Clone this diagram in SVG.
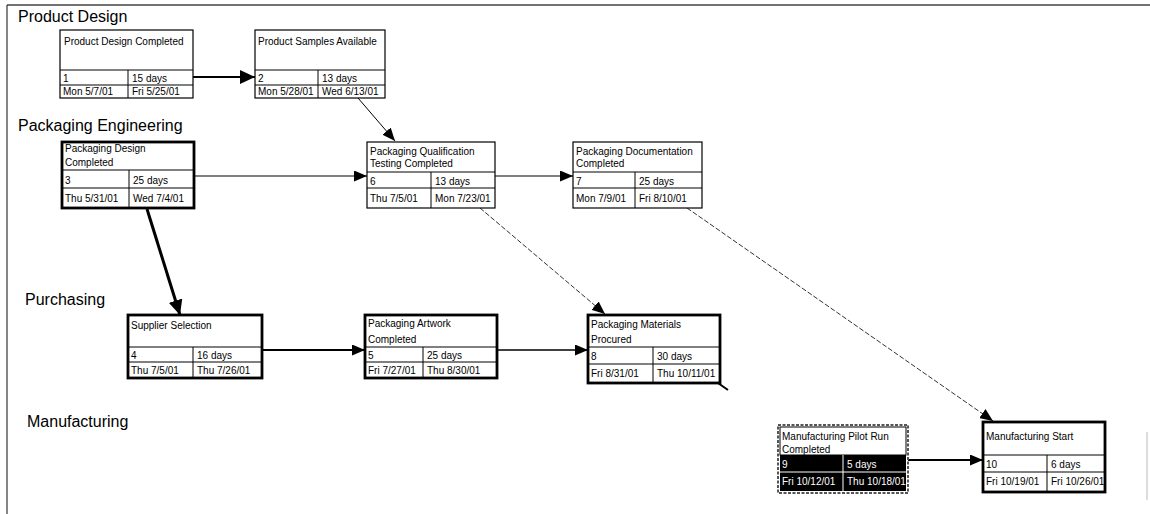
<svg xmlns="http://www.w3.org/2000/svg" width="1150" height="514" viewBox="0 0 1150 514">
<style>
text{font-family:"Liberation Sans",Arial,sans-serif;fill:#000}
.lane{font-size:16px}
.nt{font-size:10px}
.box{fill:#fff;stroke:#000;stroke-width:1.2}
.thick{fill:#fff;stroke:#000;stroke-width:2.8}
.grid{fill:none;stroke:#000;stroke-width:1}
.wt{fill:#fff}
.c{fill:none;stroke:#000}
.dash{fill:none;stroke:#333;stroke-width:1;stroke-dasharray:5 2}
</style>
<defs>
<marker id="aL" markerUnits="userSpaceOnUse" viewBox="0 0 15 14" refX="15" refY="7" markerWidth="15" markerHeight="14" orient="auto"><path d="M0 0L15 7L0 14z" fill="#000"/></marker>
<marker id="aM" markerUnits="userSpaceOnUse" viewBox="0 0 13 11" refX="13" refY="5.5" markerWidth="13" markerHeight="11" orient="auto"><path d="M0 0L13 5.5L0 11z" fill="#000"/></marker>
</defs>
<rect width="1150" height="514" fill="#fff"/>
<g id="frame">
<path d="M7 5H1150" stroke="#444" stroke-width="1.5" fill="none"/>
<path d="M7 5V514" stroke="#333" stroke-width="1.2" fill="none"/>
<path d="M1147 432V500" stroke="#bbb" stroke-width="1" fill="none"/>
</g>
<g id="lanes">
<text class="lane" x="18" y="22">Product Design</text>
<text class="lane" x="18" y="131">Packaging Engineering</text>
<text class="lane" x="25" y="305">Purchasing</text>
<text class="lane" x="27" y="427">Manufacturing</text>
</g>
<g id="connectors">
<path class="c" stroke-width="2" d="M193 77H255" marker-end="url(#aL)"/>
<path class="c" stroke-width="1" d="M358 98L395 141" marker-end="url(#aM)"/>
<path class="c" stroke-width="1.2" d="M194 176H367" marker-end="url(#aM)"/>
<path class="c" stroke-width="1.2" d="M495 176H573" marker-end="url(#aM)"/>
<path class="c" stroke-width="3" d="M147 209L180 315" marker-end="url(#aL)"/>
<path class="c" stroke-width="2" d="M262 350H365" marker-end="url(#aM)"/>
<path class="c" stroke-width="1.6" d="M497 350H588" marker-end="url(#aM)"/>
<path class="dash" d="M480 208L605 314" marker-end="url(#aM)"/>
<path class="dash" d="M687 208L993 421" marker-end="url(#aM)"/>
<path class="c" stroke-width="2" d="M908 460H983" marker-end="url(#aM)"/>
<path class="c" stroke-width="2" d="M718 383L728 390"/>
</g>
<g id="node-1">
<rect class="box" x="60" y="30" width="133" height="68"/>
<path class="grid" d="M60 70H193M60 85H193M128 70V98"/>
<text class="nt" x="64" y="45">Product Design Completed</text>
<text class="nt" x="63" y="81.5">1</text>
<text class="nt" x="132" y="81.5">15 days</text>
<text class="nt" x="63" y="94.5">Mon 5/7/01</text>
<text class="nt" x="132" y="94.5">Fri 5/25/01</text>
</g>
<g id="node-2">
<rect class="box" x="255" y="30" width="130" height="68"/>
<path class="grid" d="M255 70H385M255 85H385M318 70V98"/>
<text class="nt" x="258" y="45">Product Samples Available</text>
<text class="nt" x="258" y="81.5">2</text>
<text class="nt" x="322" y="81.5">13 days</text>
<text class="nt" x="258" y="94.5">Mon 5/28/01</text>
<text class="nt" x="322" y="94.5">Wed 6/13/01</text>
</g>
<g id="node-3">
<rect class="thick" x="62" y="142" width="132" height="66"/>
<path class="grid" d="M62 170H194M62 188H194M129 170V208"/>
<text class="nt" x="65" y="152">Packaging Design</text>
<text class="nt" x="65" y="166">Completed</text>
<text class="nt" x="65" y="184">3</text>
<text class="nt" x="133" y="184">25 days</text>
<text class="nt" x="65" y="201.5">Thu 5/31/01</text>
<text class="nt" x="133" y="201.5">Wed 7/4/01</text>
</g>
<g id="node-6">
<rect class="box" x="367" y="142" width="128" height="66"/>
<path class="grid" d="M367 172H495M367 188H495M431 172V208"/>
<text class="nt" x="370" y="155">Packaging Qualification</text>
<text class="nt" x="370" y="167">Testing Completed</text>
<text class="nt" x="370" y="184.5">6</text>
<text class="nt" x="435" y="184.5">13 days</text>
<text class="nt" x="370" y="201.5">Thu 7/5/01</text>
<text class="nt" x="435" y="201.5">Mon 7/23/01</text>
</g>
<g id="node-7">
<rect class="box" x="573" y="142" width="129" height="66"/>
<path class="grid" d="M573 172H702M573 188H702M635 172V208"/>
<text class="nt" x="576" y="155">Packaging Documentation</text>
<text class="nt" x="576" y="167">Completed</text>
<text class="nt" x="576" y="184.5">7</text>
<text class="nt" x="639" y="184.5">25 days</text>
<text class="nt" x="576" y="201.5">Mon 7/9/01</text>
<text class="nt" x="639" y="201.5">Fri 8/10/01</text>
</g>
<g id="node-4">
<rect class="thick" x="128" y="315" width="134" height="63"/>
<path class="grid" d="M128 347H262M128 362H262M193 347V378"/>
<text class="nt" x="131" y="328.5">Supplier Selection</text>
<text class="nt" x="131" y="358.5">4</text>
<text class="nt" x="197" y="358.5">16 days</text>
<text class="nt" x="131" y="373.5">Thu 7/5/01</text>
<text class="nt" x="197" y="373.5">Thu 7/26/01</text>
</g>
<g id="node-5">
<rect class="thick" x="365" y="315" width="132" height="63"/>
<path class="grid" d="M365 347H497M365 362H497M423 347V378"/>
<text class="nt" x="368" y="327">Packaging Artwork</text>
<text class="nt" x="368" y="343">Completed</text>
<text class="nt" x="368" y="358.5">5</text>
<text class="nt" x="427" y="358.5">25 days</text>
<text class="nt" x="368" y="373.5">Fri 7/27/01</text>
<text class="nt" x="427" y="373.5">Thu 8/30/01</text>
</g>
<g id="node-8">
<rect class="thick" x="588" y="315" width="132" height="68"/>
<path class="grid" d="M588 347H720M588 364H720M653 347V383"/>
<text class="nt" x="591" y="328">Packaging Materials</text>
<text class="nt" x="591" y="343">Procured</text>
<text class="nt" x="591" y="359.5">8</text>
<text class="nt" x="657" y="359.5">30 days</text>
<text class="nt" x="591" y="377">Fri 8/31/01</text>
<text class="nt" x="657" y="377">Thu 10/11/01</text>
</g>
<g id="node-9">
<rect x="778" y="425" width="130" height="68" fill="#fff" stroke="#555" stroke-width="2" stroke-dasharray="3 1.5"/>
<rect x="780" y="427" width="126" height="28" fill="#fff" stroke="#000" stroke-width="1"/>
<rect x="780" y="455" width="126" height="36" fill="#000"/>
<path d="M780 472H906M843 455V491" stroke="#fff" stroke-width="1" fill="none"/>
<text class="nt" x="782" y="440">Manufacturing Pilot Run</text>
<text class="nt" x="782" y="453">Completed</text>
<text class="nt wt" x="782" y="468">9</text>
<text class="nt wt" x="847" y="468">5 days</text>
<text class="nt wt" x="782" y="485">Fri 10/12/01</text>
<text class="nt wt" x="847" y="485">Thu 10/18/01</text>
</g>
<g id="node-10">
<rect class="thick" x="983" y="422" width="122" height="70"/>
<path class="grid" d="M983 455H1105M983 472H1105M1047 455V492"/>
<text class="nt" x="986" y="440">Manufacturing Start</text>
<text class="nt" x="986" y="468">10</text>
<text class="nt" x="1051" y="468">6 days</text>
<text class="nt" x="986" y="485">Fri 10/19/01</text>
<text class="nt" x="1051" y="485">Fri 10/26/01</text>
</g>
</svg>
